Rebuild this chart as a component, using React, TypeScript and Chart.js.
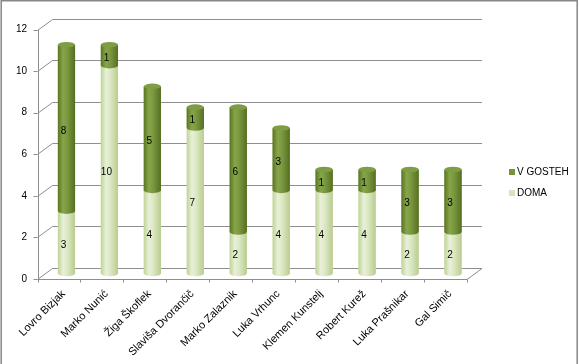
import React, { useEffect, useRef } from "react";
import { Chart, registerables } from "chart.js";

Chart.register(...registerables);

const categories = [
  "Lovro Bizjak",
  "Marko Nunić",
  "Žiga Škoflek",
  "Slaviša Dvorančič",
  "Marko Zalaznik",
  "Luka Vrhunc",
  "Klemen Kunstelj",
  "Robert Kurež",
  "Luka Prašnikar",
  "Gal Simič",
];
const domaValues = [3, 10, 4, 7, 2, 4, 4, 4, 2, 2];
const vGostehValues = [8, 1, 5, 1, 6, 3, 1, 1, 3, 3];
const yMin = 0;
const yMax = 12;
const yStep = 2;

const FONT = "'Liberation Sans', Arial, sans-serif";
const DX = 7.5; // half depth, horizontal
const DY = 5.5; // half depth, vertical
const GRID = "#8e8e8e";

const seriesStyle = [
  {
    name: "DOMA",
    solid: "#d7e4bd",
    body: [
      [0, "#bfd394"],
      [0.3, "#e8f0d8"],
      [0.55, "#dce8c4"],
      [1, "#b9cc8e"],
    ],
    top: "#e4edcf",
  },
  {
    name: "V GOSTEH",
    solid: "#77933c",
    body: [
      [0, "#5a7523"],
      [0.3, "#87a64a"],
      [0.55, "#7a983f"],
      [1, "#566f22"],
    ],
    top: "#7f9d44",
  },
];

const excel3d = {
  id: "excel3d",
  beforeDatasetsDraw(chart: any) {
    const { ctx, chartArea } = chart;
    const ys = chart.scales.y;
    const xs = chart.scales.x;
    const left = chartArea.left;
    const right = chartArea.right;
    ctx.save();
    ctx.strokeStyle = GRID;
    ctx.lineWidth = 1;
    // back wall grid lines + side diagonals + front ticks
    for (let v = yMin; v <= yMax; v += yStep) {
      const ym = ys.getPixelForValue(v);
      const yb = Math.round(ym - DY) + 0.5;
      const yf = Math.round(ym + DY) + 0.5;
      ctx.beginPath();
      ctx.moveTo(left + DX, yb);
      ctx.lineTo(right + DX, yb);
      ctx.stroke();
      ctx.beginPath();
      ctx.moveTo(left - DX - 4, yf);
      ctx.lineTo(left - DX, yf);
      ctx.lineTo(left + DX, yb);
      ctx.stroke();
    }
    // front vertical axis
    const fx = Math.round(left - DX) + 0.5;
    ctx.beginPath();
    ctx.moveTo(fx, ys.getPixelForValue(yMax) + DY);
    ctx.lineTo(fx, ys.getPixelForValue(yMin) + DY);
    ctx.stroke();
    // floor front edge and right diagonal
    const y0f = Math.round(ys.getPixelForValue(yMin) + DY) + 0.5;
    const y0b = Math.round(ys.getPixelForValue(yMin) - DY) + 0.5;
    ctx.beginPath();
    ctx.moveTo(left - DX, y0f);
    ctx.lineTo(right - DX, y0f);
    ctx.lineTo(right + DX, y0b);
    ctx.stroke();
    // category boundary ticks on the front edge
    const n = xs.ticks.length;
    const step = (right - left) / n;
    for (let i = 0; i <= n; i++) {
      const tx = Math.round(left - DX + i * step) + 0.5;
      ctx.beginPath();
      ctx.moveTo(tx, y0f);
      ctx.lineTo(tx, y0f + 3);
      ctx.stroke();
    }
    ctx.restore();
  },
  afterDatasetsDraw(chart: any) {
    const { ctx } = chart;
    const metas = chart.data.datasets.map((_: any, i: number) => chart.getDatasetMeta(i));
    const count = chart.data.labels.length;
    ctx.save();
    for (let i = 0; i < count; i++) {
      let topIdx = -1;
      for (let d = 0; d < metas.length; d++) {
        const val = chart.data.datasets[d].data[i];
        if (!val) continue;
        topIdx = d;
        const el = metas[d].data[i];
        const { x, y, base, width } = el.getProps(["x", "y", "base", "width"], true);
        const l = x - width / 2;
        const r = x + width / 2;
        const ry = 2.8;
        const g = ctx.createLinearGradient(l, 0, r, 0);
        for (const [o, c] of seriesStyle[d].body as any) g.addColorStop(o, c);
        ctx.fillStyle = g;
        ctx.beginPath();
        ctx.moveTo(l, y);
        ctx.lineTo(l, base);
        ctx.ellipse(x, base, width / 2, ry, 0, Math.PI, 0, true);
        ctx.lineTo(r, y);
        ctx.closePath();
        ctx.fill();
      }
      if (topIdx >= 0) {
        const el = metas[topIdx].data[i];
        const { x, y, width } = el.getProps(["x", "y", "width"], true);
        ctx.fillStyle = seriesStyle[topIdx].top;
        ctx.beginPath();
        ctx.ellipse(x, y, width / 2, 2.8, 0, 0, Math.PI * 2);
        ctx.fill();
      }
    }
    // data labels
    ctx.fillStyle = "#000";
    ctx.font = `10px ${FONT}`;
    ctx.textAlign = "center";
    ctx.textBaseline = "middle";
    for (let d = 0; d < metas.length; d++) {
      for (let i = 0; i < count; i++) {
        const val = chart.data.datasets[d].data[i];
        if (!val) continue;
        const el = metas[d].data[i];
        const { x, y, base } = el.getProps(["x", "y", "base"], true);
        ctx.fillText(String(val), x - 3, (y + base) / 2 + 3);
      }
    }
    ctx.restore();
  },
  afterDraw(chart: any) {
    const { ctx, width, height } = chart;
    ctx.save();
    // legend (top entry = last series)
    ctx.font = `10px ${FONT}`;
    ctx.textBaseline = "middle";
    ctx.textAlign = "left";
    const entries = [1, 0];
    entries.forEach((d, k) => {
      const yy = 172 + k * 21;
      ctx.fillStyle = seriesStyle[d].solid;
      ctx.fillRect(509, yy - 3, 6, 6);
      ctx.fillStyle = "#000";
      ctx.fillText(chart.data.datasets[d].label, 517, yy);
    });
    // outer border
    ctx.strokeStyle = "#878787";
    ctx.lineWidth = 1.5;
    ctx.beginPath();
    ctx.moveTo(1.2, height + 2);
    ctx.lineTo(1.2, 0.8);
    ctx.lineTo(width - 1.8, 0.8);
    ctx.lineTo(width - 1.8, height + 2);
    ctx.stroke();
    ctx.restore();
  },
};

export default function App() {
  const ref = useRef<HTMLCanvasElement>(null);
  useEffect(() => {
    if (!ref.current) return;
    const chart = new Chart(ref.current, {
      type: "bar",
      data: {
        labels: categories,
        datasets: [
          {
            label: "DOMA",
            data: domaValues,
            backgroundColor: seriesStyle[0].solid,
            barPercentage: 0.4,
            categoryPercentage: 1,
          },
          {
            label: "V GOSTEH",
            data: vGostehValues,
            backgroundColor: seriesStyle[1].solid,
            barPercentage: 0.4,
            categoryPercentage: 1,
          },
        ],
      },
      options: {
        responsive: false,
        animation: false,
        layout: { padding: { top: 22.5, right: 579 - 474.5, left: 0, bottom: 0 } },
        plugins: { legend: { display: false }, tooltip: { enabled: false } },
        scales: {
          x: {
            stacked: true,
            grid: { display: false, drawTicks: false },
            border: { display: false },
            ticks: {
              minRotation: 45,
              maxRotation: 45,
              autoSkip: false,
              padding: 14,
              labelOffset: -3,
              color: "#000",
              font: { family: FONT, size: 11 },
            },
            afterFit: (s: any) => {
              s.height = 90.5;
            },
          },
          y: {
            stacked: true,
            min: yMin,
            max: yMax,
            grid: { display: false, drawTicks: false },
            border: { display: false },
            ticks: {
              stepSize: yStep,
              padding: 18,
              labelOffset: DY,
              color: "#000",
              font: { family: FONT, size: 10 },
            },
            afterFit: (s: any) => {
              s.width = 45;
            },
          },
        },
      },
      plugins: [excel3d],
    });
    return () => chart.destroy();
  }, []);
  return (
    <div style={{ position: "fixed", left: 0, top: 0, width: 579, height: 364, background: "#fff" }}>
      <canvas ref={ref} width={579} height={364} style={{ display: "block" }} />
    </div>
  );
}
